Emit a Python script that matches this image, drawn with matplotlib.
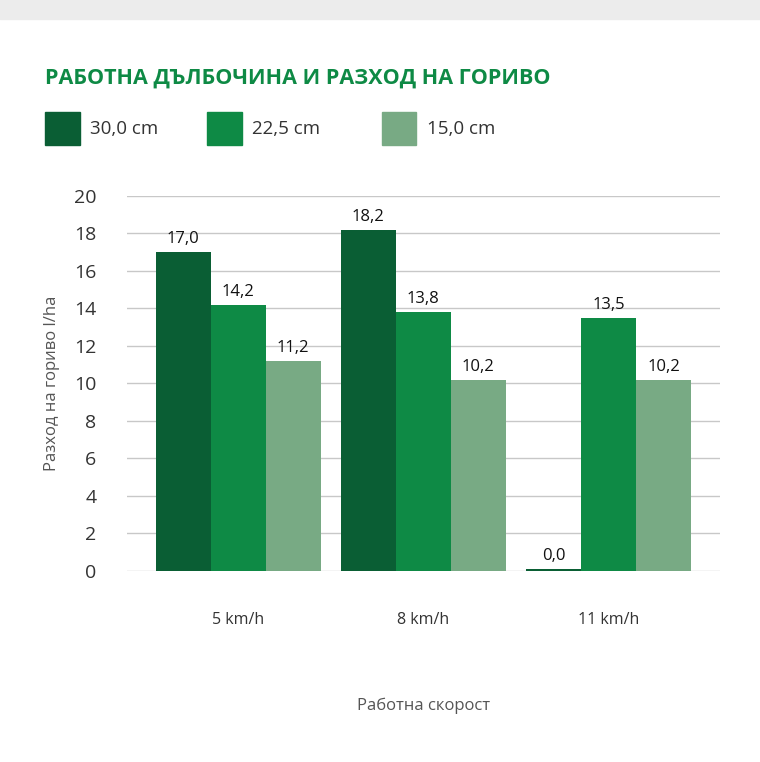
import matplotlib

matplotlib.use("Agg")
import matplotlib.pyplot as plt
from matplotlib.patches import Rectangle
import numpy as np

plt.rcParams["font.family"] = ["Open Sans", "DejaVu Sans"]

speeds = ["5 km/h", "8 km/h", "11 km/h"]
depths = ["30,0 cm", "22,5 cm", "15,0 cm"]
values = [
    [17.0, 18.2, 0.0],   # 30,0 cm
    [14.2, 13.8, 13.5],  # 22,5 cm
    [11.2, 10.2, 10.2],  # 15,0 cm
]
colors = ["#0a5e34", "#0e8a45", "#78aa84"]

fig = plt.figure(figsize=(7.6, 7.62), dpi=100)
ax = fig.add_axes([0.167, 0.251, 0.78, 0.492])

x = np.arange(len(speeds))
w = 0.297
for i, (vals, c) in enumerate(zip(values, colors)):
    pos = x + (i - 1) * w
    bars = ax.bar(pos, vals, width=w, color=c, zorder=3)
    for b, v in zip(bars, vals):
        ax.text(b.get_x() + b.get_width() / 2, max(v, 0.1) + 0.25, f"{v:.1f}".replace(".", ","),
                ha="center", va="bottom", fontsize=12, color="#111111", zorder=4)
    # thin line for zero bar
    for p, v in zip(pos, vals):
        if v == 0:
            ax.bar(p, 0.1, width=w, color=c, zorder=3)

ax.set_xlim(-0.6, 2.6)
ax.set_ylim(0, 20)
ax.set_yticks(range(0, 21, 2))
ax.set_xticks(x)
ax.set_xticklabels(speeds)
ax.grid(axis="y", color="#c8c8c8", linewidth=1, zorder=0)
for s in ax.spines.values():
    s.set_visible(False)
ax.tick_params(axis="both", length=0, colors="#333333")
ax.tick_params(axis="y", labelsize=14, pad=22)
ax.tick_params(axis="x", labelsize=11.5, pad=30)
ax.set_ylabel("Разход на гориво l/ha", fontsize=12, color="#555555", labelpad=10)
ax.set_xlabel("Работна скорост", fontsize=12, color="#555555", labelpad=50)

fig.text(0.059, 0.897, "РАБОТНА ДЪЛБОЧИНА И РАЗХОД НА ГОРИВО", fontsize=15.5,
         fontweight="bold", color="#0e8a45", va="center")

lx = [0.059, 0.272, 0.502]
for xx, lab, c in zip(lx, depths, colors):
    fig.patches.append(Rectangle((xx, 0.81), 0.046, 0.043, transform=fig.transFigure,
                                 color=c, figure=fig))
    fig.text(xx + 0.06, 0.831, lab, fontsize=13.5, color="#333333", va="center")

fig.patches.append(Rectangle((0, 0.975), 1, 0.025, transform=fig.transFigure,
                             color="#ececec", figure=fig))

fig.savefig("out.png", dpi=100)
